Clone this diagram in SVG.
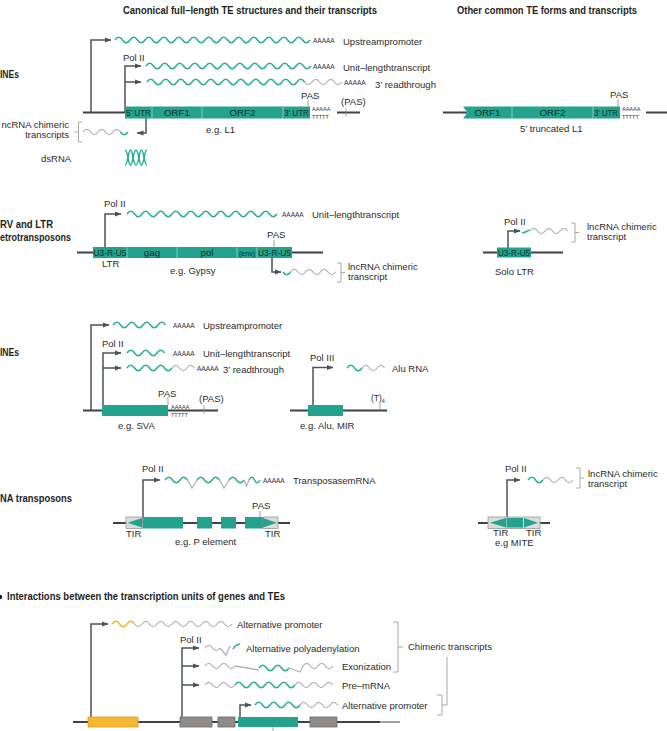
<svg xmlns="http://www.w3.org/2000/svg" width="667" height="731" viewBox="0 0 667 731">
<defs>
<marker id="ah" viewBox="0 0 7 6" refX="6.5" refY="3" markerWidth="7" markerHeight="6" markerUnits="userSpaceOnUse" orient="auto"><path d="M0,0.4 L7,3 L0,5.6 Z" fill="#4b545a"/></marker>
<style>
text{font-family:"Liberation Sans",Arial,sans-serif;font-size:9.5px;fill:#2b2b2b}
.b{font-weight:bold;font-size:10.5px;fill:#1e1e1e}
.sec{font-weight:bold;font-size:10px;fill:#1e1e1e}
.s{font-size:9.8px;fill:#0b342e;text-anchor:middle}
.a{font-size:6.5px;fill:#333}
.a6{font-size:5.5px;fill:#333}
.g{stroke:#3c4348;stroke-width:1.8;fill:none}
.arr{stroke:#4b545a;stroke-width:1.5;fill:none;marker-end:url(#ah)}
.wt{stroke:#2aae98;stroke-width:1.5;fill:none}
.wg{stroke:#b3b3b3;stroke-width:1.3;fill:none}
.wy{stroke:#f2b22e;stroke-width:1.5;fill:none}
.br{stroke:#a8a8a8;stroke-width:1;fill:none}
.te{fill:#23a38e}
.sep{stroke:#8fd6c9;stroke-width:0.8}
.tk{stroke:#8a8a8a;stroke-width:0.8}
.tir{fill:#dcdcdc;stroke:#9a9a9a;stroke-width:0.8}
.gr{fill:#8e8b89;stroke:#6e6b69;stroke-width:0.8}
.ye{fill:#f6b733;stroke:#d99a1a;stroke-width:0.8}
</style>
</defs>
<rect width="667" height="731" fill="#ffffff"/>

<g id="headers">
<text class="b" x="123" y="14" textLength="254" lengthAdjust="spacingAndGlyphs">Canonical full–length TE structures and their transcripts</text>
<text class="b" x="457" y="14" textLength="180" lengthAdjust="spacingAndGlyphs">Other common TE forms and transcripts</text>
<text class="sec" x="0" y="78" textLength="19" lengthAdjust="spacingAndGlyphs">INEs</text>
<text class="sec" x="0" y="228" textLength="53" lengthAdjust="spacingAndGlyphs">RV and LTR</text>
<text class="sec" x="0" y="241" textLength="71" lengthAdjust="spacingAndGlyphs">etrotransposons</text>
<text class="sec" x="0" y="356" textLength="19" lengthAdjust="spacingAndGlyphs">INEs</text>
<text class="sec" x="0" y="502" textLength="72" lengthAdjust="spacingAndGlyphs">NA transposons</text>
<circle cx="0" cy="597" r="2.2" fill="#1e1e1e"/>
<text class="sec" x="7" y="600" textLength="278" lengthAdjust="spacingAndGlyphs">Interactions between the transcription units of genes and TEs</text>
</g>

<g id="connectors">
<path class="arr" d="M91,112.5 V40 H111"/>
<path class="arr" d="M125,112.5 V66 H141"/>
<path class="arr" d="M125,82 H141"/>
<path class="arr" d="M146,118 V133 H137"/>
<path class="arr" d="M105,252.5 V214 H121"/>
<path class="arr" d="M272,258 V272 H281"/>
<path class="arr" d="M508,252 V231 H520"/>
<path class="arr" d="M91,410.5 V325 H109"/>
<path class="arr" d="M103,410.5 V353 H121"/>
<path class="arr" d="M103,368 H121"/>
<path class="arr" d="M313,410.5 V367.5 H333"/>
<path class="arr" d="M143,523 V480 H160"/>
<path class="arr" d="M507,523 V480 H520"/>
<path class="arr" d="M91,722 V624 H108"/>
<path class="arr" d="M182,717 V648 H199"/>
<path class="arr" d="M182,666 H199"/>
<path class="arr" d="M182,685 H199"/>
<path class="arr" d="M240,717 V705 H251"/>
</g>

<g id="line-full-L1">
<path class="g" d="M83,112.5 H125 M337,112.5 H360"/>
<rect class="te" x="125" y="106.5" width="185" height="12"/>
<path class="sep" d="M152,106.5 V118.5 M202,106.5 V118.5 M283,106.5 V118.5"/>
<text class="s" x="138.5" y="116" textLength="25" lengthAdjust="spacingAndGlyphs">5’ UTR</text>
<text class="s" x="177" y="116">ORF1</text>
<text class="s" x="242.5" y="116">ORF2</text>
<text class="s" x="296.5" y="116" textLength="25" lengthAdjust="spacingAndGlyphs">3’ UTR</text>
<text class="a6" x="312" y="110.5">AAAAA</text>
<text class="a6" x="312" y="118.5">TTTTT</text>
<path class="tk" d="M308,100 V106.5 M346,108.5 V116.5"/>
<text x="301" y="99">PAS</text>
<text x="341" y="105">(PAS)</text>
<text x="123" y="61">Pol II</text>
<text x="206" y="133">e.g. L1</text>
<text x="41" y="162">dsRNA</text>
<path class="wt" d="M125,165 C128,165 128,150 130.5,150 C133,150 133,165 136,165 C139,165 139,150 141.5,150 C144,150 144,165 147,165"/>
<path class="wt" d="M125,150 C128,150 128,165 130.5,165 C133,165 133,150 136,150 C139,150 139,165 141.5,165 C144,165 144,150 147,150"/>
</g>

<g id="line-transcripts">
<path class="wt" d="M115,40 q3.75,-5.4 7.5,0 t7.5,0 t7.5,0 t7.5,0 t7.5,0 t7.5,0 t7.5,0 t7.5,0 t7.5,0 t7.5,0 t7.5,0 t7.5,0 t7.5,0 t7.5,0 t7.5,0 t7.5,0 t7.5,0 t7.5,0 t7.5,0 t7.5,0 t7.5,0 t7.5,0 t7.5,0 t7.5,0 t7.5,0 t7.5,0"/>
<text class="a" x="313" y="42.5">AAAAA</text>
<text x="343" y="45">Upstreampromoter</text>
<path class="wt" d="M146,66 q3.75,-5.4 7.5,0 t7.5,0 t7.5,0 t7.5,0 t7.5,0 t7.5,0 t7.5,0 t7.5,0 t7.5,0 t7.5,0 t7.5,0 t7.5,0 t7.5,0 t7.5,0 t7.5,0 t7.5,0 t7.5,0 t7.5,0 t7.5,0 t7.5,0 t7.5,0 t7.5,0"/>
<text class="a" x="313" y="68.5">AAAAA</text>
<text x="343" y="71">Unit–lengthtranscript</text>
<path class="wt" d="M147,82 q3.75,-5.4 7.5,0 t7.5,0 t7.5,0 t7.5,0 t7.5,0 t7.5,0 t7.5,0 t7.5,0 t7.5,0 t7.5,0 t7.5,0 t7.5,0 t7.5,0 t7.5,0 t7.5,0 t7.5,0 t7.5,0 t7.5,0 t7.5,0 t7.5,0 t7.5,0"/>
<path class="wg" d="M304.5,82 q3.75,5.4 7.5,0 t7.5,0 t7.5,0 t7.5,0 t7.5,0"/>
<text class="a" x="344" y="84.5">AAAAA</text>
<text x="375" y="88">3’ readthrough</text>
<path class="wg" d="M83,132 q3.75,-5.4 7.5,0 t7.5,0 t7.5,0 t7.5,0 t7.5,0"/>
<path class="wt" d="M120.5,132 q3.75,5.4 7.5,0"/>
<path class="br" d="M82,122 H78.5 V142 H82 M78.5,132 H74"/>
<text x="69" y="128" text-anchor="end">ncRNA chimeric</text>
<text x="69" y="138" text-anchor="end">transcripts</text>
</g>

<g id="line-truncated-L1">
<path class="g" d="M443,112.5 H467 M646,112.5 H667"/>
<polygon class="te" points="463,106.5 620,106.5 620,118.5 463,118.5 467.5,112.5"/>
<path class="sep" d="M512,106.5 V118.5 M593,106.5 V118.5"/>
<text class="s" x="487.5" y="116">ORF1</text>
<text class="s" x="552.5" y="116">ORF2</text>
<text class="s" x="606" y="116" textLength="24" lengthAdjust="spacingAndGlyphs">3’ UTR</text>
<text class="a6" x="622" y="110.5">AAAAA</text>
<text class="a6" x="622" y="118.5">TTTTT</text>
<path class="tk" d="M618,99 V106.5"/>
<text x="610" y="98">PAS</text>
<text x="520" y="132">5’ truncated L1</text>
</g>

<g id="ltr-gypsy">
<path class="g" d="M77,252.5 H323"/>
<rect class="te" x="93" y="247" width="199" height="11"/>
<path class="sep" d="M127,247 V258 M177,247 V258 M237,247 V258 M257,247 V258"/>
<text class="s" x="110" y="256" textLength="33" lengthAdjust="spacingAndGlyphs">U3-R-U5</text>
<text class="s" x="152" y="256">gag</text>
<text class="s" x="207" y="256">pol</text>
<text class="s" x="247" y="255.5" style="font-size:7px">(env)</text>
<text class="s" x="274.5" y="256" textLength="33" lengthAdjust="spacingAndGlyphs">U3-R-U5</text>
<text x="104" y="207">Pol II</text>
<text x="102" y="267">LTR</text>
<path class="wt" d="M127,214 q3.75,-5.4 7.5,0 t7.5,0 t7.5,0 t7.5,0 t7.5,0 t7.5,0 t7.5,0 t7.5,0 t7.5,0 t7.5,0 t7.5,0 t7.5,0 t7.5,0 t7.5,0 t7.5,0 t7.5,0 t7.5,0 t7.5,0 t7.5,0 t7.5,0"/>
<text class="a" x="282" y="216.5">AAAAA</text>
<text x="312" y="218">Unit–lengthtranscript</text>
<path class="tk" d="M274,240 V247"/>
<text x="267" y="238">PAS</text>
<path class="wt" d="M283,272 q3.75,5.4 7.5,0"/>
<path class="wg" d="M290.5,272 q3.75,-5.4 7.5,0 t7.5,0 t7.5,0 t7.5,0 t7.5,0 t7.5,0"/>
<path class="br" d="M337,263 H341 V282 H337 M341,272.5 H345"/>
<text x="348" y="270">lncRNA chimeric</text>
<text x="348" y="280">transcript</text>
<text x="170" y="274">e.g. Gypsy</text>
</g>

<g id="solo-ltr">
<path class="g" d="M483,252.5 H563"/>
<rect class="te" x="497" y="247.5" width="34" height="10"/>
<text class="s" x="514" y="256" textLength="32" lengthAdjust="spacingAndGlyphs">U3-R-U5</text>
<text x="504" y="225">Pol II</text>
<path class="wt" d="M522,233 q3,-0.5 7.5,-3"/>
<path class="wg" d="M530,231 q3.75,-5.4 7.5,0 t7.5,0 t7.5,0 t7.5,0 t7.5,0"/>
<path class="br" d="M571,223 H575 V242 H571 M575,232.5 H579"/>
<text x="587" y="230">lncRNA chimeric</text>
<text x="587" y="240">transcript</text>
<text x="495" y="275">Solo LTR</text>
</g>

<g id="sine-sva">
<path class="g" d="M83,410.5 H218"/>
<rect class="te" x="102" y="405" width="66" height="11"/>
<path class="wt" d="M113,325 q3.75,-5.4 7.5,0 t7.5,0 t7.5,0 t7.5,0 t7.5,0 t7.5,0 t7.5,0"/>
<text class="a" x="173" y="327.5">AAAAA</text>
<text x="203" y="329">Upstreampromoter</text>
<text x="102" y="347">Pol II</text>
<path class="wt" d="M127,353 q3.75,-5.4 7.5,0 t7.5,0 t7.5,0 t7.5,0 t7.5,0"/>
<text class="a" x="173" y="355.5">AAAAA</text>
<text x="203" y="357">Unit–lengthtranscript</text>
<path class="wt" d="M127,368 q3.75,-5.4 7.5,0 t7.5,0 t7.5,0 t7.5,0 t7.5,0 t7.5,0"/>
<path class="wg" d="M172,368 q3.75,-5.4 7.5,0 t7.5,0 t7.5,0"/>
<text class="a" x="197" y="370.5">AAAAA</text>
<text x="223" y="373">3’ readthrough</text>
<path class="tk" d="M168,397 V405 M204,405.5 V414"/>
<text x="158" y="397">PAS</text>
<text class="a6" x="171" y="408.5">AAAAA</text>
<text class="a6" x="171" y="416.5">TTTTT</text>
<text x="199" y="402">(PAS)</text>
<text x="118" y="429">e.g. SVA</text>
</g>

<g id="sine-alu">
<path class="g" d="M290,410.5 H387"/>
<rect class="te" x="308" y="405" width="35" height="11"/>
<text x="310" y="361">Pol III</text>
<path class="wt" d="M347,368 q3.75,-5.4 7.5,0 t7.5,0"/>
<path class="wg" d="M362,368 q3.75,-5.4 7.5,0 t7.5,0 t7.5,0"/>
<text x="392" y="372">Alu RNA</text>
<text x="371" y="401" style="font-size:8.5px">(T)<tspan dy="2" style="font-size:5.5px">4</tspan></text>
<path class="tk" d="M380,403 V410"/>
<text x="300" y="429">e.g. Alu, MIR</text>
</g>

<g id="dna-p-element">
<path class="g" d="M113,523 H290"/>
<rect class="tir" x="126" y="517" width="16.5" height="11.5"/>
<polygon class="te" points="127.5,522.8 142,518 142,527.5"/>
<rect class="te" x="143" y="517" width="40" height="11.5"/>
<rect class="te" x="197" y="517" width="15" height="11.5"/>
<rect class="te" x="221" y="517" width="15" height="11.5"/>
<rect class="te" x="245" y="517" width="18" height="11.5"/>
<rect class="tir" x="263" y="517" width="15" height="11.5"/>
<polygon class="te" points="263,518 263,527.5 277,522.8"/>
<path class="tk" d="M260,511 V517"/>
<text x="252" y="509">PAS</text>
<text x="142" y="472">Pol II</text>
<path class="wt" d="M165,480 q3.75,-5.4 7.5,0 t7.5,0 t7.5,0"/>
<path class="wg" d="M187.5,480 L192,488 L197,480"/>
<path class="wt" d="M197,480 q3.75,-5.4 7.5,0 t7.5,0 t7.5,0"/>
<path class="wg" d="M219.5,480 L224,488 L229,480"/>
<path class="wt" d="M229,480 q3.75,-5.4 7.5,0 t7.5,0"/>
<path class="wg" d="M244,480 L246.5,486 L249,480"/>
<path class="wt" d="M249,480 q2.75,-5.4 5.5,0 t5.5,0"/>
<text class="a" x="263" y="482.5">AAAAA</text>
<text x="293" y="484">TransposasemRNA</text>
<text x="126" y="537">TIR</text>
<text x="265" y="537">TIR</text>
<text x="175" y="545">e.g. P element</text>
</g>

<g id="dna-mite">
<path class="g" d="M478,523 H550"/>
<rect class="tir" x="488" y="517" width="52" height="11.5"/>
<polygon class="te" points="490,522.8 506,518 506,527.5"/>
<rect class="te" x="506.5" y="518" width="16.5" height="9.5"/>
<polygon class="te" points="524,518 524,527.5 538,522.8"/>
<text x="505" y="472">Pol II</text>
<path class="wt" d="M528,480 q3.75,-5.4 7.5,0 t7.5,0"/>
<path class="wg" d="M543,480 q3.75,-5.4 7.5,0 t7.5,0 t7.5,0 t7.5,0"/>
<path class="br" d="M576,468 H580 V488 H576 M580,478 H584"/>
<text x="588" y="477">lncRNA chimeric</text>
<text x="588" y="487">transcript</text>
<text x="493" y="536">TIR</text>
<text x="526" y="536">TIR</text>
<text x="495" y="546">e.g MITE</text>
</g>

<g id="interactions">
<path class="g" d="M73,722 H380"/>
<path d="M380,722 H400" stroke="#777" stroke-width="1.4"/>
<rect class="ye" x="88" y="717" width="50" height="10"/>
<rect class="gr" x="180" y="717" width="32" height="10"/>
<rect class="gr" x="218" y="717" width="17" height="10"/>
<rect class="te" x="238" y="717" width="60" height="10"/>
<rect class="gr" x="310" y="717" width="27" height="10"/>
<path class="tk" d="M273,727 V731"/>
<path class="wy" d="M112,624 q3.75,-5.4 7.5,0 t7.5,0 t7.5,0"/>
<path class="wg" d="M134.5,624 q3.75,5.4 7.5,0 t7.5,0 t7.5,0 t7.5,0 t7.5,0 t7.5,0 t7.5,0 t7.5,0 t7.5,0 t7.5,0 t7.5,0 t7.5,0 t7.5,0"/>
<text x="237" y="628">Alternative promoter</text>
<text x="180" y="643">Pol II</text>
<path class="wg" d="M205,648 q3.75,-5.4 7.5,0 t7.5,0 M220,648 L226,655 L230,646"/>
<path class="wt" d="M233,649 q2,-4 7,-5"/>
<text x="246" y="652">Alternative polyadenylation</text>
<path class="wg" d="M205,666 q3.75,-5.4 7.5,0 t7.5,0 t7.5,0 t7.5,0 M235,666 L259,670"/>
<path class="wt" d="M259,668 q3.75,-5.4 7.5,0 t7.5,0 t7.5,0 t7.5,0"/>
<path class="wg" d="M289,668 L300,672 L303,666 q3.75,-5.4 7.5,0 t7.5,0 t7.5,0 t7.5,0"/>
<text x="342" y="670">Exonization</text>
<path class="wg" d="M205,685 q3.75,-5.4 7.5,0 t7.5,0 t7.5,0 t7.5,0"/>
<path class="wt" d="M235,685 q3.75,-5.4 7.5,0 t7.5,0 t7.5,0 t7.5,0 t7.5,0 t7.5,0 t7.5,0 t7.5,0"/>
<path class="wg" d="M295,685 q3.75,-5.4 7.5,0 t7.5,0 t7.5,0 t7.5,0 t7.5,0"/>
<text x="342" y="689">Pre–mRNA</text>
<path class="wt" d="M255,705 q3.75,-5.4 7.5,0 t7.5,0 t7.5,0 t7.5,0 t7.5,0 t7.5,0"/>
<path class="wg" d="M300,705 q3.75,-5.4 7.5,0 t7.5,0 t7.5,0 t7.5,0 t7.5,0"/>
<text x="342" y="709">Alternative promoter</text>
<path class="br" d="M393,622 H398 V672 H393 M398,647 H403"/>
<text x="408" y="650">Chimeric transcripts</text>
<path class="br" d="M437,695 H442 V715 H437 M442,705 H447 V657"/>
</g>
</svg>
